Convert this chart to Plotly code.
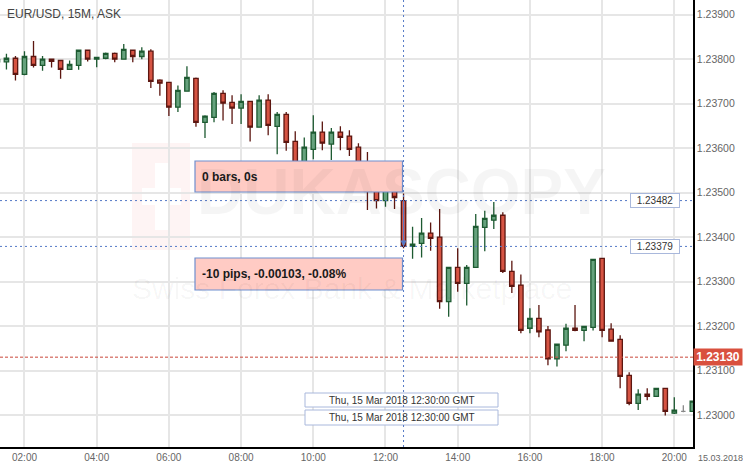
import plotly.graph_objects as go

# ---------------- data (EUR/USD 15M ASK, 15 Mar 2018) ----------------
times = [
    "01:15", "01:30", "01:45", "02:00", "02:15", "02:30", "02:45", "03:00", "03:15", "03:30",
    "03:45", "04:00", "04:15", "04:30", "04:45", "05:00", "05:15", "05:30", "05:45", "06:00",
    "06:15", "06:30", "06:45", "07:00", "07:15", "07:30", "07:45", "08:00", "08:15", "08:30",
    "08:45", "09:00", "09:15", "09:30", "09:45", "10:00", "10:15", "10:30", "10:45", "11:00",
    "11:15", "11:30", "11:45", "12:00", "12:15", "12:30", "12:45", "13:00", "13:15", "13:30",
    "13:45", "14:00", "14:15", "14:30", "14:45", "15:00", "15:15", "15:30", "15:45", "16:00",
    "16:15", "16:30", "16:45", "17:00", "17:15", "17:30", "17:45", "18:00", "18:15", "18:30",
    "18:45", "19:00", "19:15", "19:30", "19:45", "20:00", "20:15", "20:30",
]
open_ = [
    1.23794, 1.23794, 1.23802, 1.23766, 1.23806, 1.23786, 1.23800, 1.23797, 1.23777, 1.23786,
    1.23820, 1.23800, 1.23802, 1.23813, 1.23800, 1.23820, 1.23806, 1.23818, 1.23753, 1.23748,
    1.23692, 1.23728, 1.23757, 1.23658, 1.23669, 1.23723, 1.23703, 1.23690, 1.23705, 1.23647,
    1.23708, 1.23649, 1.23676, 1.23615, 1.23562, 1.23597, 1.23636, 1.23609, 1.23636, 1.23627,
    1.23602, 1.23546, 1.23517, 1.23482, 1.23510, 1.23482, 1.23379, 1.23386, 1.23409, 1.23400,
    1.23255, 1.23332, 1.23296, 1.23332, 1.23422, 1.23438, 1.23449, 1.23323, 1.23292, 1.23195,
    1.23217, 1.23191, 1.23126, 1.23157, 1.23195, 1.23190, 1.23197, 1.23352, 1.23193, 1.23170,
    1.23089, 1.23026, 1.23047, 1.23042, 1.23060, 1.23004, 1.23008, 1.23008,
]
high = [
    1.23803, 1.23812, 1.23807, 1.23818, 1.23841, 1.23807, 1.23800, 1.23797, 1.23797, 1.23820,
    1.23820, 1.23804, 1.23815, 1.23815, 1.23834, 1.23820, 1.23827, 1.23822, 1.23755, 1.23748,
    1.23741, 1.23784, 1.23759, 1.23674, 1.23726, 1.23730, 1.23719, 1.23721, 1.23705, 1.23719,
    1.23721, 1.23681, 1.23681, 1.23638, 1.23624, 1.23674, 1.23660, 1.23645, 1.23649, 1.23640,
    1.23611, 1.23591, 1.23533, 1.23528, 1.23522, 1.23498, 1.23423, 1.23443, 1.23433, 1.23463,
    1.23332, 1.23375, 1.23337, 1.23452, 1.23459, 1.23479, 1.23456, 1.23347, 1.23316, 1.23240,
    1.23247, 1.23200, 1.23159, 1.23205, 1.23247, 1.23199, 1.23350, 1.23352, 1.23206, 1.23179,
    1.23096, 1.23058, 1.23060, 1.23060, 1.23060, 1.23040, 1.23022, 1.23031,
]
low = [
    1.23789, 1.23777, 1.23752, 1.23764, 1.23781, 1.23774, 1.23781, 1.23756, 1.23777, 1.23776,
    1.23795, 1.23782, 1.23800, 1.23793, 1.23800, 1.23793, 1.23800, 1.23735, 1.23718, 1.23672,
    1.23681, 1.23728, 1.23648, 1.23623, 1.23658, 1.23662, 1.23654, 1.23654, 1.23615, 1.23647,
    1.23629, 1.23586, 1.23594, 1.23540, 1.23551, 1.23575, 1.23595, 1.23573, 1.23595, 1.23582,
    1.23533, 1.23461, 1.23464, 1.23468, 1.23463, 1.23375, 1.23351, 1.23354, 1.23369, 1.23239,
    1.23221, 1.23277, 1.23246, 1.23332, 1.23368, 1.23418, 1.23319, 1.23274, 1.23184, 1.23184,
    1.23175, 1.23112, 1.23109, 1.23143, 1.23188, 1.23166, 1.23190, 1.23175, 1.23166, 1.23060,
    1.23022, 1.23011, 1.23033, 1.23042, 1.22999, 1.23002, 1.23006, 1.23008,
]
close = [
    1.23799, 1.23802, 1.23766, 1.23806, 1.23786, 1.23800, 1.23795, 1.23777, 1.23788, 1.23820,
    1.23800, 1.23804, 1.23813, 1.23800, 1.23822, 1.23806, 1.23818, 1.23750, 1.23746, 1.23692,
    1.23730, 1.23759, 1.23658, 1.23672, 1.23723, 1.23701, 1.23690, 1.23705, 1.23647, 1.23708,
    1.23651, 1.23676, 1.23613, 1.23555, 1.23602, 1.23636, 1.23611, 1.23636, 1.23624, 1.23597,
    1.23546, 1.23515, 1.23482, 1.23510, 1.23489, 1.23379, 1.23384, 1.23409, 1.23397, 1.23255,
    1.23332, 1.23296, 1.23332, 1.23424, 1.23442, 1.23449, 1.23323, 1.23289, 1.23190, 1.23217,
    1.23187, 1.23126, 1.23159, 1.23195, 1.23190, 1.23199, 1.23350, 1.23190, 1.23166, 1.23087,
    1.23026, 1.23047, 1.23042, 1.23060, 1.23008, 1.23011, 1.23008, 1.23031,
]

DATE = "2018-03-15"
y_ticks = [1.23000, 1.23100, 1.23200, 1.23300, 1.23400, 1.23500, 1.23600, 1.23700, 1.23800, 1.23900]
measure_open = 1.23482
measure_close = 1.23379
current_price = 1.23130
measure_time = "12:30"
title_text = "EUR/USD, 15M, ASK"
bars_text = "0 bars, 0s"
pips_text = "-10 pips, -0.00103, -0.08%"
time_label = "Thu, 15 Mar 2018 12:30:00 GMT"
date_label = "15.03.2018"
x_range = ["2018-03-15 01:19:18", "2018-03-15 20:31:05"]
y_range = [1.22928, 1.23933]

ts = [f"{DATE} {t}:00" for t in times]

GREEN_LINE = "#1d5a31"
GREEN_FILL = "#66a27d"
RED_LINE = "#5c1610"
RED_FILL = "#d65443"
BLUE = "#5479c6"
FONT = "Liberation Sans, Arial"

idx_dir = [i for i in range(len(ts)) if open_[i] != close[i]]
idx_flat = [i for i in range(len(ts)) if open_[i] == close[i]]


def sub(arr, idx):
    return [arr[i] for i in idx]


fig = go.Figure()
fig.add_trace(go.Candlestick(
    x=sub(ts, idx_dir), open=sub(open_, idx_dir), high=sub(high, idx_dir),
    low=sub(low, idx_dir), close=sub(close, idx_dir),
    increasing=dict(line=dict(color=GREEN_LINE, width=1.3), fillcolor=GREEN_FILL),
    decreasing=dict(line=dict(color=RED_LINE, width=1.3), fillcolor=RED_FILL),
    whiskerwidth=0, hoverinfo="skip", showlegend=False,
))
if idx_flat:
    fig.add_trace(go.Candlestick(
        x=sub(ts, idx_flat), open=sub(open_, idx_flat), high=sub(high, idx_flat),
        low=sub(low, idx_flat), close=sub(close, idx_flat),
        increasing=dict(line=dict(color="#888888", width=1.3), fillcolor="#888888"),
        decreasing=dict(line=dict(color="#888888", width=1.3), fillcolor="#888888"),
        whiskerwidth=0, hoverinfo="skip", showlegend=False,
    ))

shapes = []
# watermark (behind)
shapes.append(dict(type="rect", xref="paper", yref="paper", layer="below",
                   x0=132 / 693, x1=190 / 693, y0=1 - 250 / 447, y1=1 - 143 / 447,
                   fillcolor="rgba(230,60,60,0.06)", line=dict(width=0)))
shapes.append(dict(type="rect", xref="paper", yref="paper", layer="below",
                   x0=155 / 693, x1=168 / 693, y0=1 - 230 / 447, y1=1 - 163 / 447,
                   fillcolor="white", line=dict(width=0)))
shapes.append(dict(type="rect", xref="paper", yref="paper", layer="below",
                   x0=142 / 693, x1=181 / 693, y0=1 - 205 / 447, y1=1 - 188 / 447,
                   fillcolor="white", line=dict(width=0)))

# horizontal measuring lines
for p in (measure_open, measure_close):
    shapes.append(dict(type="line", xref="paper", yref="y", x0=0, x1=1, y0=p, y1=p,
                       line=dict(color=BLUE, width=1, dash="2px,3px")))
# current price line
shapes.append(dict(type="line", xref="paper", yref="y", x0=0, x1=1, y0=current_price, y1=current_price,
                   line=dict(color="#c9473a", width=1, dash="3px,2px")))
# pink info boxes
for (top, bot) in ((161, 192), (258, 290)):
    shapes.append(dict(type="rect", xref="paper", yref="paper",
                       x0=195 / 693, x1=402.5 / 693, y0=1 - bot / 447, y1=1 - top / 447,
                       fillcolor="#ffcbc4", line=dict(color="#6f8fcf", width=1.2)))
# time label boxes
for (top, bot) in ((393, 407), (410, 425)):
    shapes.append(dict(type="rect", xref="paper", yref="paper",
                       x0=305 / 693, x1=498 / 693, y0=1 - bot / 447, y1=1 - top / 447,
                       fillcolor="white", line=dict(color="#a9b8dc", width=1)))
# vertical measuring line
mt = f"{DATE} {measure_time}:00"
shapes.append(dict(type="line", xref="x", yref="paper", x0=mt, x1=mt, y0=0, y1=1,
                   line=dict(color=BLUE, width=1, dash="2px,3px")))

annotations = [
    dict(text="DUKASCOPY", xref="paper", yref="paper", x=195 / 693, y=1 - 192 / 447,
         xanchor="left", yanchor="middle", showarrow=False,
         font=dict(family=FONT, size=64, color="rgba(0,0,0,0.04)", weight="bold")),
    dict(text="Swiss Forex Bank & Marketplace", xref="paper", yref="paper", x=130 / 693, y=1 - 288 / 447,
         xanchor="left", yanchor="middle", showarrow=False,
         font=dict(family=FONT, size=30, color="rgba(0,0,0,0.04)")),
    dict(text=title_text, xref="paper", yref="paper", x=5 / 693, y=1 - 14 / 447,
         xanchor="left", yanchor="middle", showarrow=False,
         font=dict(family=FONT, size=12, color="#444444")),
    dict(text=bars_text, xref="paper", yref="paper", x=200 / 693, y=1 - 177 / 447,
         xanchor="left", yanchor="middle", showarrow=False,
         font=dict(family=FONT, size=12, color="#1a1a1a", weight="bold")),
    dict(text=pips_text, xref="paper", yref="paper", x=200 / 693, y=1 - 274 / 447,
         xanchor="left", yanchor="middle", showarrow=False,
         font=dict(family=FONT, size=12, color="#1a1a1a", weight="bold")),
    dict(text=time_label, xref="paper", yref="paper", x=401.5 / 693, y=1 - 400 / 447,
         xanchor="center", yanchor="middle", showarrow=False,
         font=dict(family=FONT, size=10, color="#333333")),
    dict(text=time_label, xref="paper", yref="paper", x=401.5 / 693, y=1 - 417.5 / 447,
         xanchor="center", yanchor="middle", showarrow=False,
         font=dict(family=FONT, size=10, color="#333333")),
    dict(text=f"{measure_open:.5f}", xref="paper", yref="y", x=655 / 693, y=measure_open,
         xanchor="center", yanchor="middle", showarrow=False, bgcolor="white",
         bordercolor="#a9b8dc", borderwidth=1, width=46, height=11, borderpad=1,
         font=dict(family=FONT, size=10, color="#333333")),
    dict(text=f"{measure_close:.5f}", xref="paper", yref="y", x=655 / 693, y=measure_close,
         xanchor="center", yanchor="middle", showarrow=False, bgcolor="white",
         bordercolor="#a9b8dc", borderwidth=1, width=46, height=11, borderpad=1,
         font=dict(family=FONT, size=10, color="#333333")),
    dict(text=f"<b>{current_price:.5f}</b>", xref="paper", yref="y", x=1.0, y=current_price,
         xanchor="left", yanchor="middle", showarrow=False, bgcolor="#d9503e",
         width=46, height=14, borderpad=1,
         font=dict(family=FONT, size=12, color="white")),
    dict(text=date_label, xref="paper", yref="paper", x=1.0, y=1 - 458 / 447, xshift=3,
         xanchor="left", yanchor="middle", showarrow=False,
         font=dict(family=FONT, size=9, color="#666666")),
    # measuring arrow on the 12:30 candle
    dict(x=mt, y=measure_close, ax=mt, ay=measure_open, xref="x", yref="y", axref="x", ayref="y",
         text="", showarrow=True, arrowhead=2, arrowsize=1, arrowwidth=1.2, arrowcolor=BLUE,
         standoff=0, startstandoff=0),
]

fig.update_layout(
    width=743, height=467,
    margin=dict(l=0, r=50, t=0, b=20),
    paper_bgcolor="white", plot_bgcolor="white",
    shapes=shapes, annotations=annotations,
    boxgap=0.3,
    xaxis=dict(
        type="date", range=x_range, rangeslider=dict(visible=False),
        tickformat="%H:%M", dtick=7200000, tick0=f"{DATE} 00:00:00",
        showgrid=True, gridcolor="#e6e6e6", gridwidth=1.5,
        showline=True, linecolor="black", linewidth=1.5, mirror=False,
        ticks="", ticklen=0,
        tickfont=dict(family=FONT, size=10, color="#666666"),
        zeroline=False, fixedrange=True,
    ),
    yaxis=dict(
        side="right", range=y_range, tickvals=y_ticks,
        ticktext=[f"{v:.5f}" for v in y_ticks],
        showgrid=True, gridcolor="#e6e6e6", gridwidth=1.5,
        showline=True, linecolor="black", linewidth=1.5,
        ticks="", ticklen=0,
        tickfont=dict(family=FONT, size=10.5, color="#666666"),
        zeroline=False, fixedrange=True,
    ),
)

fig.write_html(
    "out.html",
    config={"displayModeBar": False},
    post_script="document.body.style.margin='0';document.body.style.padding='0';"
                "document.documentElement.style.overflow='hidden';",
)
